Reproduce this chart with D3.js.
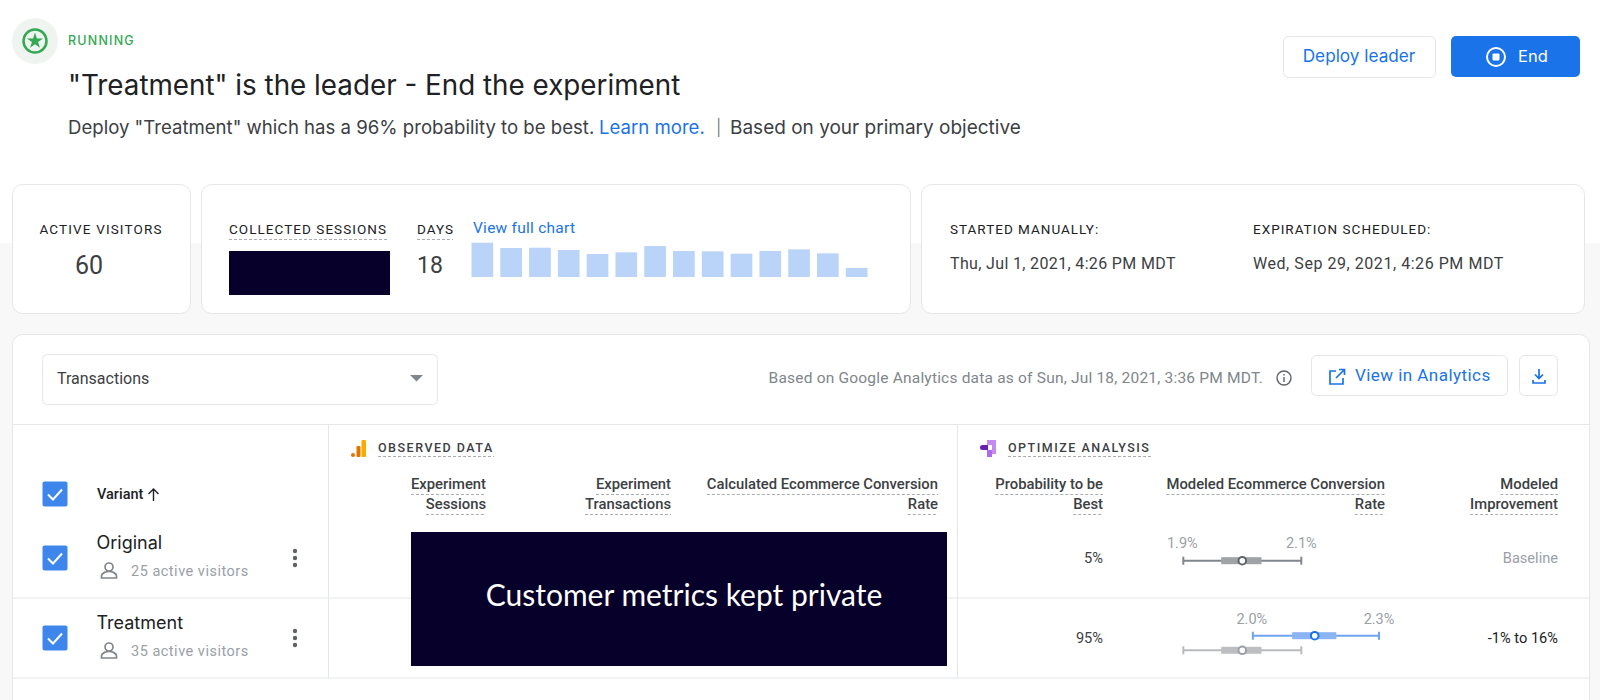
<!DOCTYPE html>
<html>
<head>
<meta charset="utf-8">
<script src="https://cdnjs.cloudflare.com/ajax/libs/d3/7.8.5/d3.min.js"></script>
<style>
body { margin: 0; background: #fff; }
svg { display: block; }
text { font-family: Roboto, sans-serif; }
.sans { font-family: Inter, sans-serif; }
</style>
</head>
<body>
<div id="chart"></div>
<script>
// chart values
var dailySessions = [103, 87, 88, 81, 69, 74, 93, 78, 77, 70, 78, 83, 71, 27];
var dayIndex = dailySessions.map(function (d, i) { return i; });
var variants = ["Original", "Treatment"];
var activeVisitors = [25, 35];
var probToBest = ["5%", "95%"];
var improvement = ["Baseline", "-1% to 16%"];
var ciLow = [1.88, 2.025];
var ciHigh = [2.126, 2.288];
var boxLow = [1.959, 2.107];
var boxHigh = [2.043, 2.199];
var ciMedian = [2.003, 2.154];
var ciLowLabel = ["1.9%", "2.0%"];
var ciHighLabel = ["2.1%", "2.3%"];

var blue = "#1a73e8";
var border = "#e4e6e9";
var dark = "#202124";
var mid = "#3c4043";
var grey = "#9aa0a6";
var navy = "#07002a";

var svg = d3.select("#chart").append("svg").attr("width", 1600).attr("height", 700);

function txt(x, y, s, size, fill, anchor, cls, spacing, weight) {
    return svg.append("text")
        .attr("x", x).attr("y", y)
        .attr("font-size", size)
        .attr("fill", fill || dark)
        .attr("text-anchor", anchor || "start")
        .attr("class", cls || null)
        .attr("letter-spacing", spacing || null)
        .attr("font-weight", weight || null)
        .text(s);
}

function dash(x1, x2, y) {
    svg.append("line")
        .attr("x1", x1).attr("x2", x2).attr("y1", y).attr("y2", y)
        .attr("stroke", "#a9adb1").attr("stroke-dasharray", "3 2");
}

function card(x, y, w, h, r, stroke, fill) {
    svg.append("rect")
        .attr("x", x).attr("y", y).attr("width", w).attr("height", h).attr("rx", r)
        .attr("fill", fill || "#fff").attr("stroke", stroke || border);
}

// page background
svg.append("rect").attr("y", 243).attr("width", 1600).attr("height", 457).attr("fill", "#f8f8f8");

// header
svg.append("circle").attr("cx", 35).attr("cy", 41).attr("r", 23).attr("fill", "#eff4f0");
svg.append("circle").attr("cx", 35).attr("cy", 41).attr("r", 11.5).attr("fill", "none").attr("stroke", "#34a853").attr("stroke-width", 2.5);
svg.append("path").attr("d", d3.symbol(d3.symbolStar, 80)()).attr("transform", "translate(35,41)").attr("fill", "#34a853");
txt(68, 45, "RUNNING", 12.5, "#34a853", "start", "sans", 1.2, 500);
txt(68, 95, "\"Treatment\" is the leader - End the experiment", 27.8, dark, "start", "sans");
txt(68, 134, "Deploy \"Treatment\" which has a 96% probability to be best.", 18.6, mid, "start", "sans");
txt(599, 134, "Learn more.", 18.6, blue, "start", "sans");
txt(716, 133, "|", 16, "#80868b", "start", "sans");
txt(730, 134, "Based on your primary objective", 19, mid, "start", "sans");

card(1283.5, 36.5, 152, 41, 5);
txt(1359, 62, "Deploy leader", 17.2, blue, "middle", "sans");
svg.append("rect").attr("x", 1451).attr("y", 36).attr("width", 129).attr("height", 41).attr("rx", 5).attr("fill", blue);
svg.append("circle").attr("cx", 1496).attr("cy", 57).attr("r", 9).attr("fill", "none").attr("stroke", "#fff").attr("stroke-width", 2);
svg.append("rect").attr("x", 1492.5).attr("y", 53.5).attr("width", 7).attr("height", 7).attr("rx", 1).attr("fill", "#fff");
txt(1518, 62, "End", 16.5, "#fff", "start", "sans");

// summary cards
card(12.5, 184.5, 178, 129, 10);
card(201.5, 184.5, 709, 129, 10);
card(921.5, 184.5, 663, 129, 10);

txt(101, 234, "ACTIVE VISITORS", 13.5, dark, "middle", null, 1.15);
txt(89, 274, "60", 25, mid, "middle");

txt(229, 234, "COLLECTED SESSIONS", 13.5, dark, "start", null, 1.05);
dash(229, 387, 239.5);
svg.append("rect").attr("x", 229).attr("y", 251).attr("width", 161).attr("height", 44).attr("fill", navy);
txt(417, 234, "DAYS", 13.5, dark, "start", null, 1);
dash(417, 453, 239.5);
txt(417, 273, "18", 23, mid);
txt(473, 233, "View full chart", 15.5, blue, "start", null, 0.25);

var xBars = d3.scaleBand().domain(dayIndex).range([471.5, 867.5]).paddingInner(0.247);
var yBars = d3.scaleLinear().domain([0, d3.max(dailySessions)]).range([277, 242.7]);
svg.append("g").selectAll("rect")
    .data(dailySessions)
    .join("rect")
    .attr("x", function (d, i) { return xBars(i); })
    .attr("y", function (d) { return yBars(d); })
    .attr("width", xBars.bandwidth())
    .attr("height", function (d) { return yBars(0) - yBars(d); })
    .attr("fill", "#bad3f8");

txt(950, 234, "STARTED MANUALLY:", 13.5, dark, "start", null, 1);
txt(950, 269, "Thu, Jul 1, 2021, 4:26 PM MDT", 16, mid, "start", null, 0.35);
txt(1253, 234, "EXPIRATION SCHEDULED:", 13.5, dark, "start", null, 1);
txt(1253, 269, "Wed, Sep 29, 2021, 4:26 PM MDT", 16, mid, "start", null, 0.55);

// main panel
card(12.5, 334.5, 1577, 400, 10);
card(42.5, 354.5, 395, 50, 5);
txt(57, 384, "Transactions", 16, mid);
svg.append("path").attr("d", "M410 375h13l-6.500 6.500z").attr("fill", "#80868b");
txt(1263, 383, "Based on Google Analytics data as of Sun, Jul 18, 2021, 3:36 PM MDT.", 15.5, "#80868b", "end", null, 0.2);
svg.append("circle").attr("cx", 1284).attr("cy", 378).attr("r", 7).attr("fill", "none").attr("stroke", "#5f6368").attr("stroke-width", 1.4);
svg.append("path").attr("d", "M1284 377v5M1284 374v1.600").attr("stroke", "#5f6368").attr("stroke-width", 1.4);
card(1311.5, 355.5, 196, 40, 5);
svg.append("path").attr("d", "M1336 371h-6v13h13v-6M1336 378l8-8M1339 369.500h5.500v5.500").attr("fill", "none").attr("stroke", blue).attr("stroke-width", 1.7);
txt(1355, 381, "View in Analytics", 17, blue, "start", null, 0.45);
card(1519.5, 355.5, 38, 40, 5);
svg.append("path").attr("d", "M1539 369v9M1535 374.500l4 4 4-4M1533 380v3h12v-3").attr("fill", "none").attr("stroke", blue).attr("stroke-width", 1.7);

// table rules
function rule(x1, y1, x2, y2) {
    svg.append("line").attr("x1", x1).attr("y1", y1).attr("x2", x2).attr("y2", y2).attr("stroke", border);
}
rule(13, 424.5, 1589, 424.5);
rule(13, 598, 1589, 598);
rule(13, 678, 1589, 678);
rule(328.5, 425, 328.5, 678);
rule(957.5, 425, 957.5, 678);

// group headings
svg.append("rect").attr("x", 351).attr("y", 453).attr("width", 4).attr("height", 4).attr("rx", 2).attr("fill", "#e37400");
svg.append("rect").attr("x", 356.5).attr("y", 446).attr("width", 4).attr("height", 11).attr("rx", 1).attr("fill", "#e37400");
svg.append("rect").attr("x", 361.5).attr("y", 440).attr("width", 4.5).attr("height", 17).attr("rx", 1).attr("fill", "#f9ab00");
txt(378, 452, "OBSERVED DATA", 12.5, mid, "start", null, 1.5, 500);
dash(378, 494, 456.5);
svg.append("path").attr("d", "M987 440h9v14h-4v-9h-5z").attr("fill", "#c58af0");
svg.append("path").attr("d", "M987 450h5v7h-5z").attr("fill", "#b06ae6");
svg.append("path").attr("d", "M982.500 445h5.500v5h-5.500a2.500 2.500 0 0 1 0-5z").attr("fill", "#6a1fb0");
txt(1008, 452, "OPTIMIZE ANALYSIS", 12.5, mid, "start", null, 1.5, 500);
dash(1008, 1151, 456.5);

// column headings, right aligned
var heads = [
    [486, "Experiment", "Sessions"],
    [671, "Experiment", "Transactions"],
    [938, "Calculated Ecommerce Conversion", "Rate"],
    [1103, "Probability to be", "Best"],
    [1385, "Modeled Ecommerce Conversion", "Rate"],
    [1558, "Modeled", "Improvement"]
];
heads.forEach(function (h) {
    var a = txt(h[0], 489, h[1], 14.8, mid, "end", null, null, 500);
    var b = txt(h[0], 509, h[2], 14.8, mid, "end", null, null, 500);
    dash(h[0] - a.node().getComputedTextLength(), h[0], 494.5);
    dash(h[0] - b.node().getComputedTextLength(), h[0], 514.5);
});

// checkboxes
function checkbox(y) {
    svg.append("rect").attr("x", 42.5).attr("y", y).attr("width", 25).attr("height", 25).attr("rx", 2).attr("fill", "#3f86ec");
    svg.append("path").attr("d", "M" + 48 + " " + (y + 13) + "l5 5 9-10").attr("fill", "none").attr("stroke", "#fff").attr("stroke-width", 2);
}
checkbox(481.5);
txt(97, 499, "Variant", 14.5, dark, "start", null, null, 500);
svg.append("path").attr("d", "M153.500 501v-12M148.500 494l5-5 5 5").attr("fill", "none").attr("stroke", dark).attr("stroke-width", 1.4);

// variant rows
var rowName = [549, 629];
var rowMid = [558, 638];
variants.forEach(function (v, i) {
    var offset = i * 80;
    checkbox(545.5 + offset);
    txt(96.5, rowName[i], v, 18, dark, "start", "sans");
    svg.append("circle").attr("cx", 109).attr("cy", 567 + offset).attr("r", 4).attr("fill", "none").attr("stroke", "#80868b").attr("stroke-width", 1.7);
    svg.append("path").attr("d", "M101.500 578v-2c0-3 4.500-4.500 7.500-4.500s7.500 1.500 7.500 4.500v2z").attr("transform", "translate(0," + offset + ")").attr("fill", "none").attr("stroke", "#80868b").attr("stroke-width", 1.7);
    txt(131, 576 + offset, activeVisitors[i] + " active visitors", 14.5, grey, "start", null, 0.5);
    [-7, 0, 7].forEach(function (dy) {
        svg.append("circle").attr("cx", 295).attr("cy", rowMid[i] + dy).attr("r", 2.2).attr("fill", "#5f6368");
    });
    txt(1103, rowMid[i] + 5, probToBest[i], 14.6, mid, "end");
    txt(1558, rowMid[i] + 5, improvement[i], 14.6, i === 0 ? grey : dark, "end");
});

// redacted block
svg.append("rect").attr("x", 411).attr("y", 532).attr("width", 536).attr("height", 134).attr("fill", navy);
svg.append("text").attr("x", 684).attr("y", 606).attr("text-anchor", "middle").attr("font-size", 30)
    .attr("fill", "#fff").style("font-family", "Lato, sans-serif").text("Customer metrics kept private");

// credible interval glyphs
var xCi = d3.scaleLinear().domain([1.88, 2.288]).range([1183.3, 1379]);

function glyph(i, y, lineColor, boxColor, ringColor) {
    var g = svg.append("g");
    g.append("line").attr("x1", xCi(ciLow[i])).attr("x2", xCi(ciHigh[i])).attr("y1", y).attr("y2", y)
        .attr("stroke", lineColor).attr("stroke-width", 2);
    g.selectAll(".cap").data([ciLow[i], ciHigh[i]]).join("line").attr("class", "cap")
        .attr("x1", function (d) { return xCi(d); }).attr("x2", function (d) { return xCi(d); })
        .attr("y1", y - 4).attr("y2", y + 4)
        .attr("stroke", lineColor).attr("stroke-width", 2);
    g.append("rect").attr("x", xCi(boxLow[i])).attr("width", xCi(boxHigh[i]) - xCi(boxLow[i]))
        .attr("y", y - 3.5).attr("height", 7).attr("fill", boxColor);
    g.append("circle").attr("cx", xCi(ciMedian[i])).attr("cy", y).attr("r", 3.8)
        .attr("fill", "#fff").attr("stroke", ringColor).attr("stroke-width", 2);
}

glyph(0, 560.7, "#80868b", "#9fa2a6", "#5f6368");
glyph(1, 635.7, "#6fa3f0", "#8ab4f3", blue);
glyph(0, 650.3, "#b8babd", "#bcbec1", "#9aa0a6");

variants.forEach(function (v, i) {
    var y = i === 0 ? 548 : 624;
    txt(xCi(ciLow[i]) - 1, y, ciLowLabel[i], 14.5, grey, "middle");
    txt(xCi(ciHigh[i]), y, ciHighLabel[i], 14.5, grey, "middle");
});
</script>
</body>
</html>
